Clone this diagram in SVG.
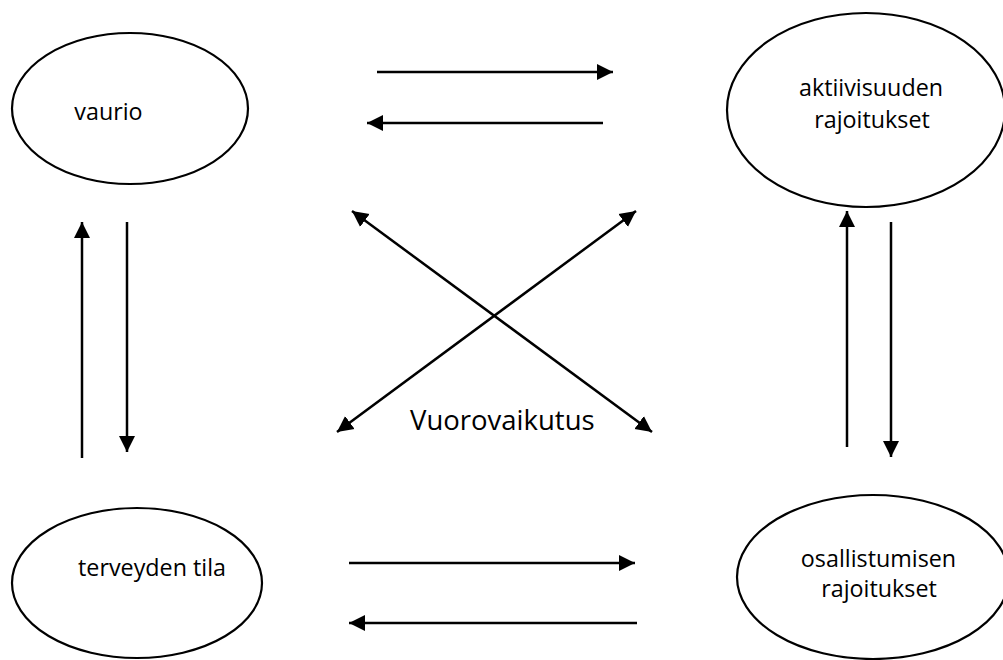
<svg xmlns="http://www.w3.org/2000/svg" width="1003" height="660" viewBox="0 0 1003 660">
<defs>
<style>
.node ellipse{fill:#fff;stroke:#000;stroke-width:2.2}
.node text{font-family:"Open Sans","Liberation Sans",sans-serif;font-size:23.3px;fill:#000;text-anchor:middle}
.lbl{font-family:"Open Sans","Liberation Sans",sans-serif;font-size:27.5px;fill:#000}
#connectors line{stroke:#000;stroke-width:2.5;fill:none;marker-end:url(#ah)}
#connectors line.both{marker-start:url(#ah)}
</style>
<marker id="ah" markerUnits="userSpaceOnUse" markerWidth="17" markerHeight="17" refX="16" refY="8" orient="auto-start-reverse" viewBox="0 0 17 16">
<path d="M0,0 L16,8 L0,16 z" fill="#000"/>
</marker>
</defs>
<rect width="1003" height="660" fill="#fff"/>
<g id="vaurio" class="node">
<ellipse cx="130" cy="108.5" rx="118" ry="75.5"/>
<text x="108.5" y="120">vaurio</text>
</g>
<g id="aktiivisuuden" class="node">
<ellipse cx="866" cy="110" rx="139" ry="97"/>
<text x="871" y="96">aktiivisuuden</text>
<text x="872" y="128">rajoitukset</text>
</g>
<g id="terveyden" class="node">
<ellipse cx="137" cy="583" rx="125" ry="75"/>
<text x="152" y="576">terveyden tila</text>
</g>
<g id="osallistumisen" class="node">
<ellipse cx="873" cy="577" rx="136" ry="82"/>
<text x="878.5" y="567">osallistumisen</text>
<text x="879" y="597">rajoitukset</text>
</g>
<text class="lbl" x="410" y="430">Vuorovaikutus</text>
<g id="connectors">
<line x1="377" y1="72" x2="613" y2="72"/>
<line x1="603" y1="123" x2="367" y2="123"/>
<line x1="349" y1="563" x2="635" y2="563"/>
<line x1="637" y1="623" x2="349" y2="623"/>
<line x1="82" y1="458" x2="82" y2="222"/>
<line x1="127" y1="222" x2="127" y2="452"/>
<line x1="847" y1="447" x2="847" y2="211"/>
<line x1="891" y1="222" x2="891" y2="457"/>
<line class="both" x1="352" y1="211" x2="652" y2="432"/>
<line class="both" x1="636" y1="211" x2="337" y2="432"/>
</g>
</svg>
